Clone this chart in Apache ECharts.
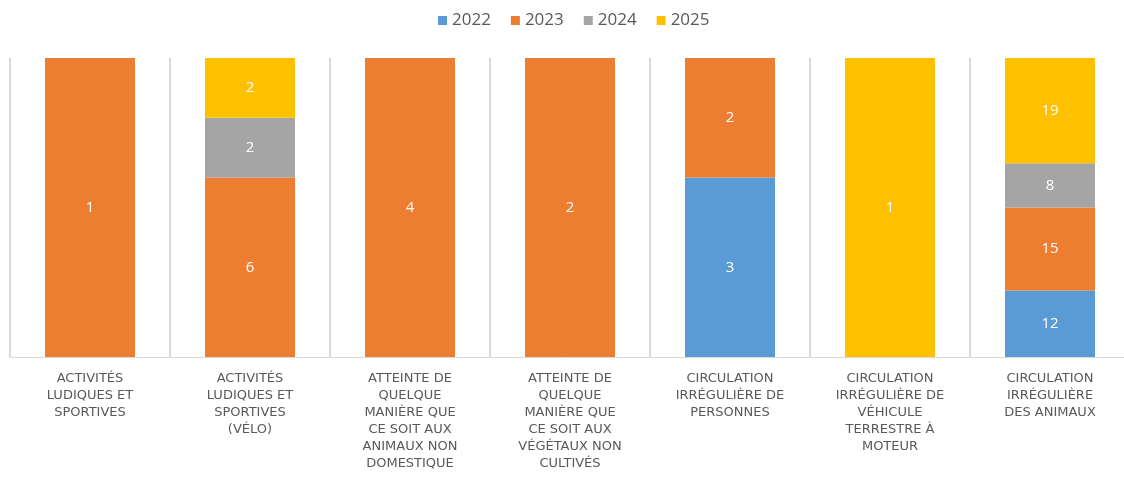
<!DOCTYPE html>
<html>
<head>
<meta charset="utf-8">
<script src="https://cdn.jsdelivr.net/npm/echarts@6/dist/echarts.min.js"></script>
<style>
  html, body { margin: 0; padding: 0; background: #fff; }
  #chart { width: 1124px; height: 479px; }
</style>
</head>
<body>
<div id="chart"></div>
<script>
var categories = [
  'ACTIVITÉS\nLUDIQUES ET\nSPORTIVES',
  'ACTIVITÉS\nLUDIQUES ET\nSPORTIVES\n(VÉLO)',
  'ATTEINTE DE\nQUELQUE\nMANIÈRE QUE\nCE SOIT AUX\nANIMAUX NON\nDOMESTIQUE',
  'ATTEINTE DE\nQUELQUE\nMANIÈRE QUE\nCE SOIT AUX\nVÉGÉTAUX NON\nCULTIVÉS',
  'CIRCULATION\nIRRÉGULIÈRE DE\nPERSONNES',
  'CIRCULATION\nIRRÉGULIÈRE DE\nVÉHICULE\nTERRESTRE À\nMOTEUR',
  'CIRCULATION\nIRRÉGULIÈRE\nDES ANIMAUX'
];
var years = ['2022', '2023', '2024', '2025'];
var v2022 = [0, 0, 0, 0, 3, 0, 12];
var v2023 = [1, 6, 4, 2, 2, 0, 15];
var v2024 = [0, 2, 0, 0, 0, 0, 8];
var v2025 = [0, 2, 0, 0, 0, 1, 19];
var colors = ['#5B9BD5', '#ED7D31', '#A5A5A5', '#FFC000'];

var raw = [v2022, v2023, v2024, v2025];
var totals = categories.map(function (c, i) {
  return raw.reduce(function (s, arr) { return s + arr[i]; }, 0);
});

var chart = echarts.init(document.getElementById('chart'));
var series = years.map(function (y, k) {
  return {
    name: y,
    type: 'bar',
    stack: 'total',
    barWidth: 90,
    itemStyle: { color: colors[k] },
    label: {
      show: true,
      position: 'inside',
      color: '#fff',
      fontSize: 15,
      fontFamily: 'Open Sans',
      formatter: function (p) { return raw[k][p.dataIndex] ? String(raw[k][p.dataIndex]) : ''; }
    },
    data: raw[k].map(function (v, i) { return totals[i] ? v / totals[i] * 100 : 0; })
  };
});

chart.setOption({
  animation: false,
  color: colors,
  legend: {
    top: 7,
    left: 433,
    itemWidth: 9,
    itemHeight: 9,
    itemGap: 20,
    icon: 'rect',
    textStyle: { color: '#595959', fontSize: 17, fontFamily: 'Open Sans' },
    data: years
  },
  grid: { left: 10, top: 58, width: 1120, height: 299, outerBoundsMode: 'none', containLabel: false },
  xAxis: {
    type: 'category',
    data: categories,
    axisLine: { lineStyle: { color: '#D9D9D9', width: 1 } },
    axisTick: { show: false },
    splitLine: { show: true, lineStyle: { color: '#D9D9D9', width: 2 } },
    axisLabel: {
      interval: 0,
      margin: 13,
      color: '#595959',
      fontSize: 13,
      lineHeight: 17,
      fontFamily: 'DejaVu Sans',
      align: 'center'
    }
  },
  yAxis: {
    type: 'value',
    min: 0,
    max: 100,
    show: false,
    splitLine: { show: false }
  },
  series: series
});
</script>
</body>
</html>
